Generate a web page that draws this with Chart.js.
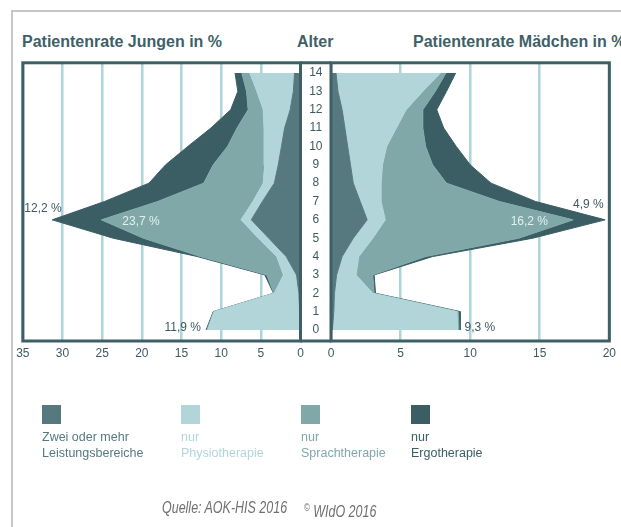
<!DOCTYPE html>
<html lang="de">
<head>
<meta charset="utf-8">
<script src="https://cdn.jsdelivr.net/npm/chart.js@4/dist/chart.umd.min.js"></script>
<style>
body{margin:0;background:#fff;font-family:"Liberation Sans",Arial,sans-serif;}
#wrap{position:relative;width:621px;height:527px;overflow:hidden;}
#wrap canvas{position:absolute;left:0;top:0;}
.page{position:absolute;left:11px;top:10px;width:700px;height:600px;border-top:2px solid #c6c6c6;border-left:2px solid #c6c6c6;}
.ttl{position:absolute;top:33px;line-height:18px;font-weight:bold;font-size:16px;color:#3e6167;white-space:nowrap;}
.leg{position:absolute;top:405px;font-size:12.5px;line-height:16px;white-space:nowrap;}
.leg i{display:block;width:19px;height:19px;margin-bottom:5px;}
.src{position:absolute;top:499px;line-height:18px;font-style:italic;font-size:16px;color:#707070;transform-origin:0 0;transform:scaleX(.78);white-space:nowrap;}
.src sup{font-size:10px;}
</style>
</head>
<body>
<div id="wrap">
  <div class="page"></div>
  <div class="ttl" style="left:22px">Patientenrate Jungen in %</div>
  <div class="ttl" style="left:297px">Alter</div>
  <div class="ttl" style="left:413px">Patientenrate Mädchen in %</div>
  <canvas id="boys" width="621" height="527"></canvas>
  <canvas id="girls" width="621" height="527"></canvas>
  <div id="legend"></div>
  <div class="src" style="left:162px">Quelle: AOK-HIS 2016</div>
  <div class="src" style="left:304px"><sup>©</sup> WIdO 2016</div>
</div>
<script>
// Alter 0..14
const ages = [0,1,2,3,4,5,6,7,8,9,10,11,12,13,14];

const seriesNames = [['Zwei oder mehr','Leistungsbereiche'],['nur','Physiotherapie'],['nur','Sprachtherapie'],['nur','Ergotherapie']];
const seriesColors = ['#56797f','#b2d5da','#80a8a9','#3a5e64'];

// Jungen, Anteile je Leistungsbereich (gestapelt)
const boysZwei   = [0.1,0.1,0.2,0.5,1.8,4.0,6.2,4.8,3.3,2.8,2.4,2.0,1.3,0.9,0.75];
const boysPhysio = [11.6,10.8,3.1,1.65,1.2,1.3,1.3,1.2,1.4,1.7,2.2,2.6,3.4,4.6,5.65];
const boysSprach = [0.1,0.05,0.05,2.1,9.6,14.5,17.6,12.0,7.5,6.5,4.6,3.4,1.9,1.3,1.0];
const boysErgo   = [0.1,0.05,0.05,0.25,0.4,3.8,6.2,6.7,6.9,6.0,5.0,3.3,2.2,1.1,0.85];

// Mädchen
const girlsZwei   = [0.1,0.2,0.25,0.4,0.8,1.6,2.6,2.1,1.6,1.4,1.2,1.0,0.8,0.5,0.36];
const girlsPhysio = [9.0,8.85,2.75,1.4,1.2,1.4,1.3,1.5,2.0,2.3,2.8,3.7,4.6,6.1,7.5];
const girlsSprach = [0.1,0.1,0.1,1.2,4.8,10.5,13.5,8.5,4.7,3.6,2.8,1.9,1.2,0.9,0.4];
const girlsErgo   = [0.1,0.15,0.1,0.1,0.5,1.0,2.3,2.6,3.2,2.7,2.2,1.5,1.0,0.8,0.7];

const boysMax = 35;
const girlsMax = 20;

// Beschriftungen: Text, Wert, Alter
const boysNotes  = [['12,2 %',30.1,6.62,'right',false],['23,7 %',20.1,5.88,'center',true],['11,9 %',12.55,0.11,'right',false]];
const girlsNotes = [['4,9 %',18.5,6.83,'center',false],['16,2 %',14.25,5.88,'center',true],['9,3 %',9.6,0.11,'left',false]];

const frameColor = '#3d5f65';
const gridColor = '#acd4da';
const textColor = '#3e5a60';

let framePlugin = {
    id:'frame',
    afterDatasetsDraw(chart, args, opts){
        let ctx = chart.ctx, a = chart.chartArea;
        ctx.save();
        ctx.strokeStyle = frameColor;
        ctx.lineWidth = 3;
        ctx.strokeRect(a.left, a.top, a.right-a.left, a.bottom-a.top);
        if(opts.middle){
            let l = chart.scales.y.left;
            ctx.beginPath();
            ctx.moveTo(l, a.top); ctx.lineTo(a.left, a.top);
            ctx.moveTo(l, a.bottom); ctx.lineTo(a.left, a.bottom);
            ctx.stroke();
        }
        ctx.font = '12px "Liberation Sans", Arial, sans-serif';
        ctx.textBaseline = 'middle';
        (opts.notes || []).forEach(n=>{
            ctx.fillStyle = n[4] ? '#e4eff0' : textColor;
            ctx.textAlign = n[3];
            ctx.fillText(n[0], chart.scales.x.getPixelForValue(n[1]), chart.scales.y.getPixelForValue(n[2]));
        });
        ctx.restore();
    }
};

let makeChart = (id, series, max, reverse, padLeft, padRight, middle, notes)=>{
    let ctx = document.getElementById(id).getContext('2d');
    return new Chart(ctx, {
        type:'line',
        data:{
            labels: ages,
            datasets: series.map((s,i)=>({
                data: s,
                backgroundColor: seriesColors[i],
                borderColor: seriesColors[i],
                borderWidth: 1,
                pointRadius: 0,
                tension: 0,
                fill: i==0 ? 'origin' : '-1'
            }))
        },
        options:{
            indexAxis:'y',
            responsive:false,
            animation:false,
            events:[],
            layout:{padding:{left:padLeft, right:padRight, top:62.8, bottom:166}},
            plugins:{legend:{display:false}, tooltip:{enabled:false}, frame:{middle:middle, notes:notes}},
            scales:{
                x:{
                    type:'linear', min:0, max:max, reverse:reverse, stacked:true,
                    afterFit:(s)=>{ s.height = 20; },
                    border:{display:false},
                    grid:{color:gridColor, lineWidth:2.5, drawTicks:false},
                    ticks:{stepSize:5, padding:5, color:textColor, font:{size:12, family:'"Liberation Sans", Arial, sans-serif'}}
                },
                y:{
                    type:'linear', min:-0.6, max:14.556, display:middle,
                    afterFit:(s)=>{ s.width = middle ? 30.5 : 0; },
                    afterBuildTicks:(s)=>{ s.ticks = ages.map(v=>({value:v})); },
                    border:{display:false},
                    grid:{display:false, drawTicks:false},
                    ticks:{autoSkip:false, crossAlign:'center', padding:8.5, color:textColor, font:{size:12, family:'"Liberation Sans", Arial, sans-serif'}}
                }
            }
        },
        plugins:[framePlugin]
    });
}

window.onload=()=>{
    makeChart('boys', [boysZwei,boysPhysio,boysSprach,boysErgo], boysMax, true, 22.8, 621-300.5, false, boysNotes);
    makeChart('girls', [girlsZwei,girlsPhysio,girlsSprach,girlsErgo], girlsMax, false, 300.5, 621-609.7, true, girlsNotes);

    let lefts = [42,181,301,411];
    let leg = document.getElementById('legend');
    seriesNames.forEach((n,i)=>{
        leg.innerHTML += `<div class="leg" style="left:${lefts[i]}px;color:${seriesColors[i]}"><i style="background:${seriesColors[i]}"></i>${n[0]}<br>${n[1]}</div>`;
    });
}
</script>
</body>
</html>
